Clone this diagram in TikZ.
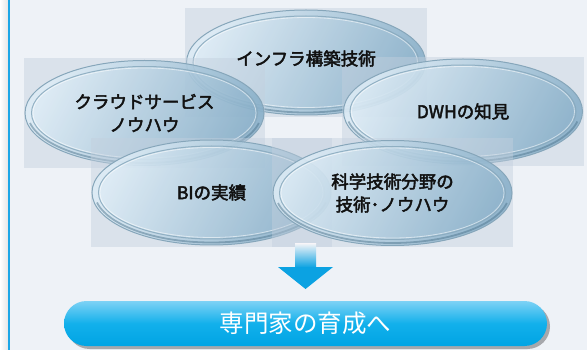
\documentclass[tikz,border=0pt]{standalone}
\usepackage{fontspec}
\newfontfamily\jp{Noto Sans CJK JP}
\newfontfamily\jpm[FakeBold=2.6]{Noto Sans CJK JP}
\usetikzlibrary{shapes.geometric,shapes.misc,shadows}
\definecolor{bgc}{HTML}{EEF2F7}
\definecolor{edgec}{HTML}{1CA6E6}
\definecolor{sqc}{HTML}{C3D0DE}
\definecolor{glasslight}{HTML}{DDECF6}
\definecolor{glassdark}{HTML}{86AEC8}
\definecolor{rimc}{HTML}{86A6BA}
\definecolor{rimdark}{HTML}{4F768E}
\definecolor{ringc}{HTML}{88A9BD}
\definecolor{barTop}{HTML}{7DD2F5}
\definecolor{barMid}{HTML}{12B0EB}
\definecolor{barBot}{HTML}{00A4E4}
\definecolor{arrowc}{HTML}{0BA2E2}
\definecolor{txtc}{HTML}{111111}
\tikzset{
  sqbox/.style={fill=sqc, fill opacity=0.45, draw=none},
  glass/.style={ellipse, minimum width=239pt, minimum height=105pt, inner sep=0pt,
    top color=glasslight, bottom color=glassdark, shading angle=62,
    fill opacity=0.85, draw=rimc, line width=1pt},
  lbl/.style={font=\jpm\fontsize{17.5}{23}\selectfont, text=txtc, align=center, inner sep=0pt},
  ringA/.style={draw=ringc, line width=1pt, opacity=0.85},
  ringB/.style={draw=white, line width=0.8pt, opacity=0.55},
  rimlow/.style={draw=rimdark, line width=1.8pt, opacity=0.5},
  goalbar/.style={rounded rectangle, minimum width=483pt, minimum height=45pt, inner sep=0pt,
    top color=barTop, bottom color=barBot, middle color=barMid,
    drop shadow={shadow xshift=3pt, shadow yshift=-3pt, opacity=0.3, fill=black},
    text=white, font=\jp\fontsize{24.5}{28}\selectfont}
}
\newcommand{\glassrings}[1]{%
  \draw[ringA] (#1.center) ellipse [x radius=113pt, y radius=46.5pt];
  \draw[ringB] (#1.center) ellipse [x radius=111.5pt, y radius=45pt];
  \draw[rimlow] (#1.center) ++(-114.5pt,-10pt) arc[start angle=192, end angle=348, x radius=117pt, y radius=50.5pt];
}
\begin{document}
\begin{tikzpicture}[x=1pt,y=-1pt]
\useasboundingbox (0,0) rectangle (587,350);
\fill[bgc] (0,0) rectangle (587,350);
\shade[left color=white, right color=black!10] (0,0) rectangle (8,350);
\fill[edgec] (8,0) rectangle (10,350);

% infra
\fill[sqbox] (185,8) rectangle (427,117);
\node[glass] (infra) at (306,62.5) {};
\glassrings{infra}
% cloud
\fill[sqbox] (24,58) rectangle (265,168);
\node[glass] (cloud) at (144.5,113) {};
\glassrings{cloud}
% dwh
\fill[sqbox] (342,57) rectangle (584,166);
\node[glass] (dwh) at (463,111.5) {};
\glassrings{dwh}
% BI
\fill[sqbox] (91,138) rectangle (332,247);
\node[glass] (bi) at (211.5,192.5) {};
\glassrings{bi}
% science
\fill[sqbox] (272,138) rectangle (513,247);
\node[glass] (sci) at (392.5,193) {};
\glassrings{sci}

% labels
\node[lbl] (infraT) at ([yshift=4pt]infra.center) {インフラ構築技術};
\node[lbl] (cloudT) at (cloud.center) {クラウドサービス\\ノウハウ};
\node[lbl] (dwhT) at (dwh.center) {DWHの知見};
\node[lbl] (biT) at (bi.center) {BIの実績};
\node[lbl] (sciT) at (sci.center) {科学技術分野の\\技術･ノウハウ};

% arrow
\coordinate (atop) at (305.5,244);
\coordinate (atip) at (305.5,289);
\shade[top color=bgc, bottom color=arrowc] (295,244) rectangle (316,267.5);
\fill[arrowc] (278,267) -- (333,267) -- (atip) -- cycle;

% goal bar
\node[goalbar] (goal) at (305.5,323.5) {専門家の育成へ};
\end{tikzpicture}
\end{document}
